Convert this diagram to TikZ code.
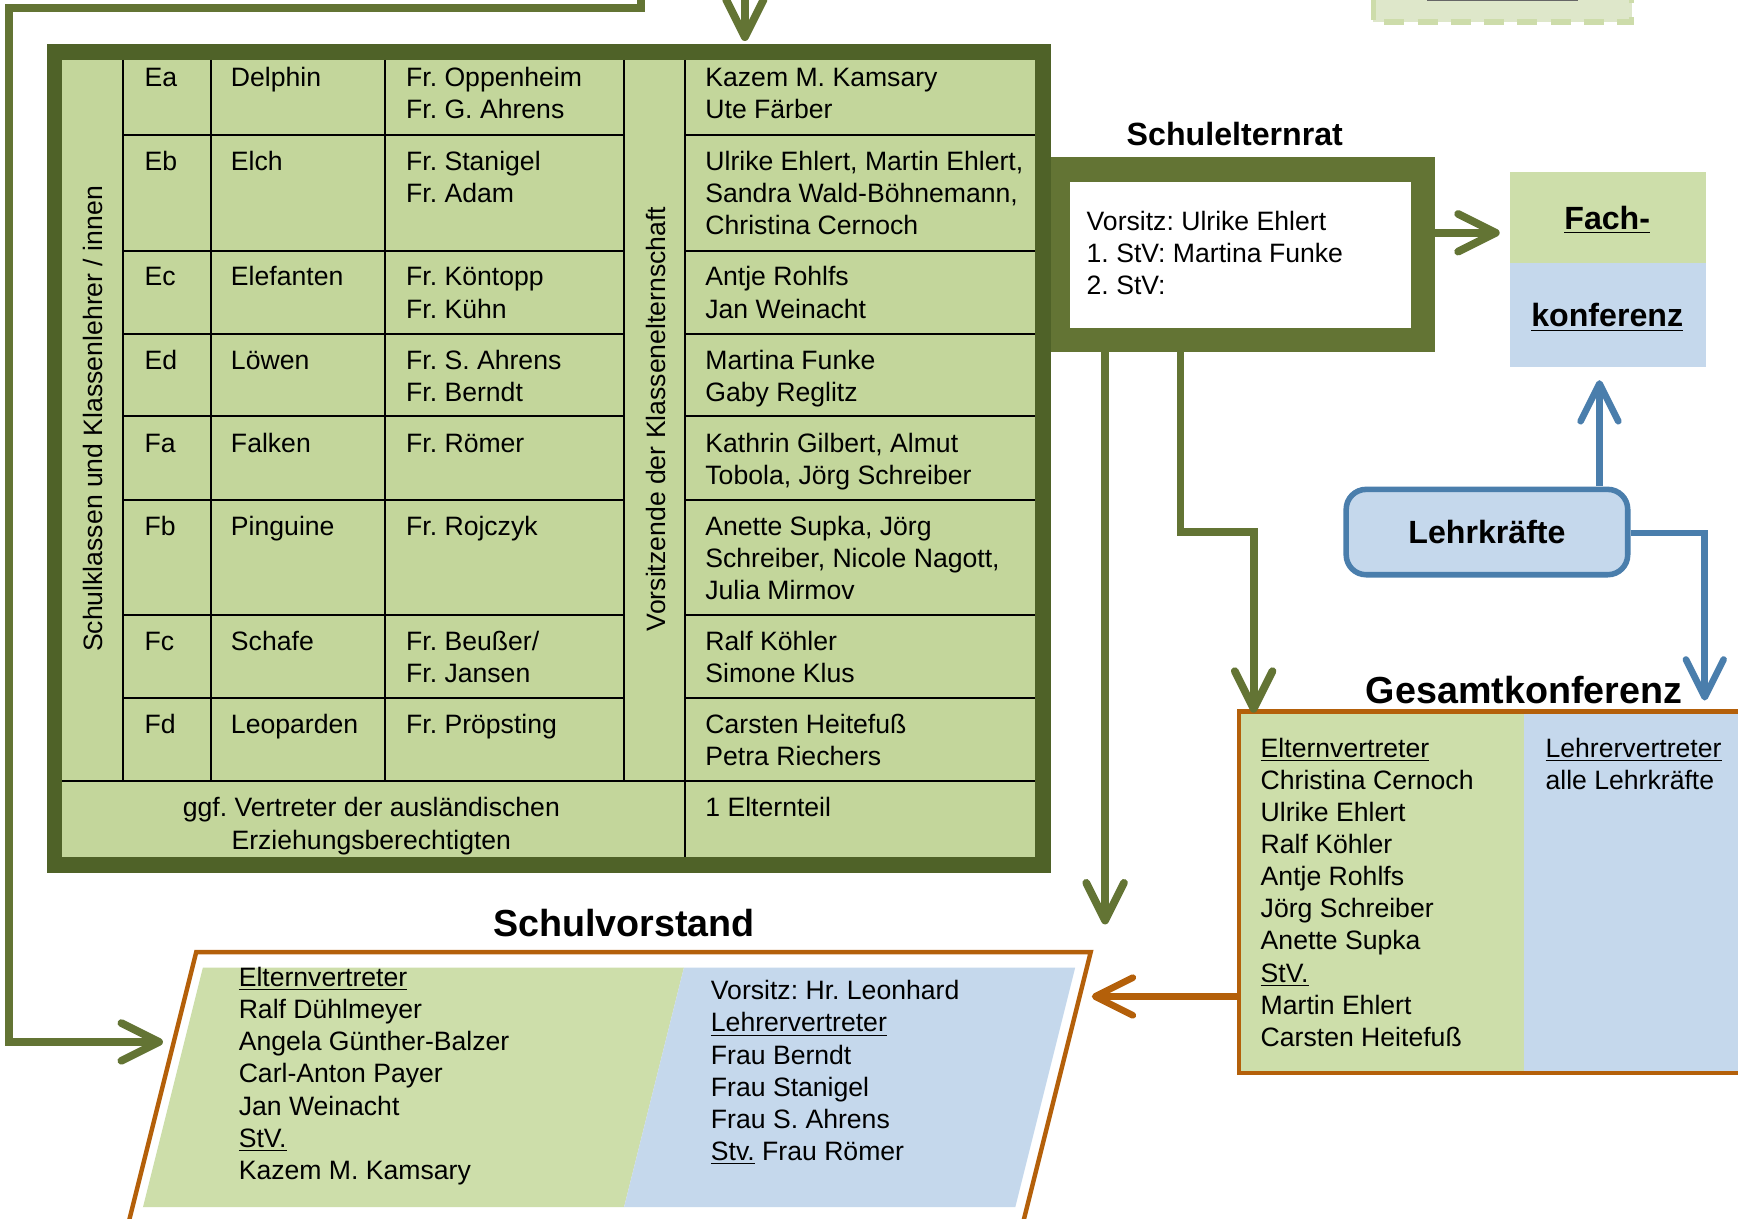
\documentclass[tikz,border=0pt]{standalone}
\usepackage{fontspec}
\setmainfont{Liberation Sans}
\usetikzlibrary{arrows.meta}
\definecolor{tabdark}{RGB}{79,98,40}
\definecolor{tabfill}{RGB}{195,214,155}
\definecolor{elgreen}{RGB}{99,116,52}
\definecolor{lgreen}{RGB}{205,222,170}
\definecolor{lblue}{RGB}{197,216,236}
\definecolor{lehrblue}{RGB}{74,126,172}
\definecolor{konforange}{RGB}{180,96,10}
\definecolor{dashfill}{RGB}{222,231,202}
\definecolor{dashline}{RGB}{205,220,170}
\newcommand{\zeilen}[1]{\begin{tabular}[t]{@{}l@{}}#1\end{tabular}}
\newcommand{\zeilenc}[1]{\begin{tabular}[t]{@{}c@{}}#1\end{tabular}}
\frenchspacing

\begin{document}
\begin{tikzpicture}[x=0.5pt,y=-0.5pt,
    every node/.style={inner sep=0pt,font=\fontsize{12}{14.5}\selectfont},
    txt/.style={anchor=base west},
    title/.style={anchor=base,font=\bfseries\fontsize{14.5}{17}\selectfont},
    bigtitle/.style={anchor=base,font=\bfseries\fontsize{17}{20}\selectfont},
    gline/.style={draw=elgreen,line width=3.5pt,-{Straight Barb[length=17pt,width=17pt,round]}},
    bline/.style={draw=lehrblue,line width=3pt,-{Straight Barb[length=17pt,width=17pt,round]}},
    oline/.style={draw=konforange,line width=3pt,-{Straight Barb[length=17pt,width=17pt,round]}},
    grid/.style={draw=black,line width=0.9pt}]
\useasboundingbox (0,0) rectangle (1568,1099);
\clip (0,0) rectangle (1568,1099);

% dashed box at the top
\fill[dashfill] (1239,-30) rectangle (1472,20);
\draw[dashline,line width=2.5pt,dash pattern=on 9pt off 6pt] (1239,-30) -- (1239,20) -- (1472,20) -- (1472,-30);
\draw[black!60,line width=1pt] (1287,0) -- (1424,0);

% Schulelternrat
\fill[elgreen] (945,142) rectangle (1295,318);
\fill[white] (965,164) rectangle (1273,296);
\node (rat-title) at (1114,131) [title] {Schulelternrat};
\node (rat-text) at (980,208) [txt] {\zeilen{Vorsitz: Ulrike Ehlert\\1. StV: Martina Funke\\2. StV:}};

% table of classes
\fill[tabdark] (42,40) rectangle (948,788);
\fill[tabfill] (56,54) rectangle (934,773);
\foreach \y in {122,226,301,375,451,555,630} {
  \draw[grid] (111,\y) -- (563,\y);
  \draw[grid] (618,\y) -- (934,\y);
}
\draw[grid] (56,705) -- (934,705);
\foreach \x in {111,190,347,563}
  \draw[grid] (\x,54) -- (\x,705);
\draw[grid] (618,54) -- (618,773);
\node (lbl-klassen) at (83.5,378) [rotate=90] {Schulklassen und Klassenlehrer / innen};
\node (lbl-vorsitz) at (592,378) [rotate=90] {Vorsitzende der Klassenelternschaft};
\foreach \y/\k/\n/\t/\p [count=\i] in {
    78/Ea/Delphin/{Fr. Oppenheim\\Fr. G. Ahrens}/{Kazem M. Kamsary\\Ute Färber},
    154/Eb/Elch/{Fr. Stanigel\\Fr. Adam}/{Ulrike Ehlert, Martin Ehlert,\\Sandra Wald-Böhnemann,\\Christina Cernoch},
    258/Ec/Elefanten/{Fr. Köntopp\\Fr. Kühn}/{Antje Rohlfs\\Jan Weinacht},
    333/Ed/Löwen/{Fr. S. Ahrens\\Fr. Berndt}/{Martina Funke\\Gaby Reglitz},
    408/Fa/Falken/{Fr. Römer}/{Kathrin Gilbert, Almut\\Tobola, Jörg Schreiber},
    483/Fb/Pinguine/{Fr. Rojczyk}/{Anette Supka, Jörg\\Schreiber, Nicole Nagott,\\Julia Mirmov},
    587/Fc/Schafe/{Fr. Beußer/\\Fr. Jansen}/{Ralf Köhler\\Simone Klus},
    662/Fd/Leoparden/{Fr. Pröpsting}/{Carsten Heitefuß\\Petra Riechers}} {
  \node (cls-\i) at (130,\y) [txt] {\k};
  \node (tier-\i) at (208,\y) [txt] {\n};
  \node (lehr-\i) at (366,\y) [txt] {\zeilen{\t}};
  \node (eltern-\i) at (636,\y) [txt] {\zeilen{\p}};
}
\node (ggf) at (335,737) [anchor=base] {\zeilenc{ggf. Vertreter der ausländischen\\Erziehungsberechtigten}};
\node (elternteil) at (636,737) [txt] {1 Elternteil};

% Fachkonferenz
\fill[lgreen] (1362,155) rectangle (1539,237);
\fill[lblue] (1362,237) rectangle (1539,331);
\node (fach-a) at (1450,207) [title] {\underline{Fach-}};
\node (fach-b) at (1450,295) [title] {\underline{konferenz}};

% Lehrkraefte
\node (lehr) at (1341.5,480) [draw=lehrblue,line width=2.5pt,fill=lblue,rounded corners=9pt,
  minimum width=127pt,minimum height=38.5pt,font=\bfseries\fontsize{14.5}{17}\selectfont] {Lehrkräfte};

% Gesamtkonferenz
\fill[lgreen] (1118,642) rectangle (1375,968);
\fill[lblue] (1375,642) rectangle (1620,968);
\draw[konforange,line width=2pt] (1118,642) rectangle (1620,968);
\node (gk-title) at (1375,634.5) [bigtitle] {Gesamtkonferenz};
\node (gk-eltern) at (1137,683) [txt] {\zeilen{\underline{Elternvertreter}\\Christina Cernoch\\Ulrike Ehlert\\Ralf Köhler\\Antje Rohlfs\\Jörg Schreiber\\Anette Supka\\\underline{StV.}\\Martin Ehlert\\Carsten Heitefuß}};
\node (gk-lehrer) at (1394,683) [txt] {\zeilen{\underline{Lehrervertreter}\\alle Lehrkräfte}};

% Schulvorstand
\draw[konforange,line width=2pt,fill=white] (177,859) -- (984,859) -- (913.75,1140) -- (106.75,1140) -- cycle;
\fill[lgreen] (183,873) -- (617,873) -- (563,1089) -- (129,1089) -- cycle;
\fill[lblue] (617,873) -- (970,873) -- (916,1089) -- (563,1089) -- cycle;
\node (sv-title) at (563,845) [bigtitle] {Schulvorstand};
\node (sv-eltern) at (215,890) [txt] {\zeilen{\underline{Elternvertreter}\\Ralf Dühlmeyer\\Angela Günther-Balzer\\Carl-Anton Payer\\Jan Weinacht\\\underline{StV.}\\Kazem M. Kamsary}};
\node (sv-lehrer) at (641,902) [txt] {\zeilen{Vorsitz: Hr. Leonhard\\\underline{Lehrervertreter}\\Frau Berndt\\Frau Stanigel\\Frau S. Ahrens\\\underline{Stv.} Frau Römer}};

% connectors
\coordinate (top-a) at (672,-20);
\coordinate (tab-n) at (672,37);
\coordinate (top-b) at (578,-20);
\coordinate (sv-w) at (147,940);
\coordinate (rat-e) at (1295,210);
\coordinate (fach-w) at (1353,210);
\coordinate (rat-s1) at (997,318);
\coordinate (sv-ne) at (997,834);
\coordinate (rat-s2) at (1065,318);
\coordinate (gk-n) at (1131,643);
\coordinate (lehr-n) at (1443,438);
\coordinate (fach-s) at (1443,343);
\coordinate (lehr-e) at (1471,481);
\coordinate (gk-ne) at (1538,632);
\coordinate (gk-w) at (1118,899);
\coordinate (sv-e) at (985,899);
\draw[gline] (top-b) |- (8,7) |- (sv-w);
\draw[gline] (top-a) -- (tab-n);
\draw[gline] (rat-e) -- (fach-w);
\draw[gline] (rat-s1) -- (sv-ne);
\draw[gline] (rat-s2) -- (1065,480) -| (gk-n);
\draw[bline] (lehr-n) -- (fach-s);
\draw[bline] (lehr-e) -| (gk-ne);
\draw[oline] (gk-w) -- (sv-e);
\end{tikzpicture}
\end{document}
